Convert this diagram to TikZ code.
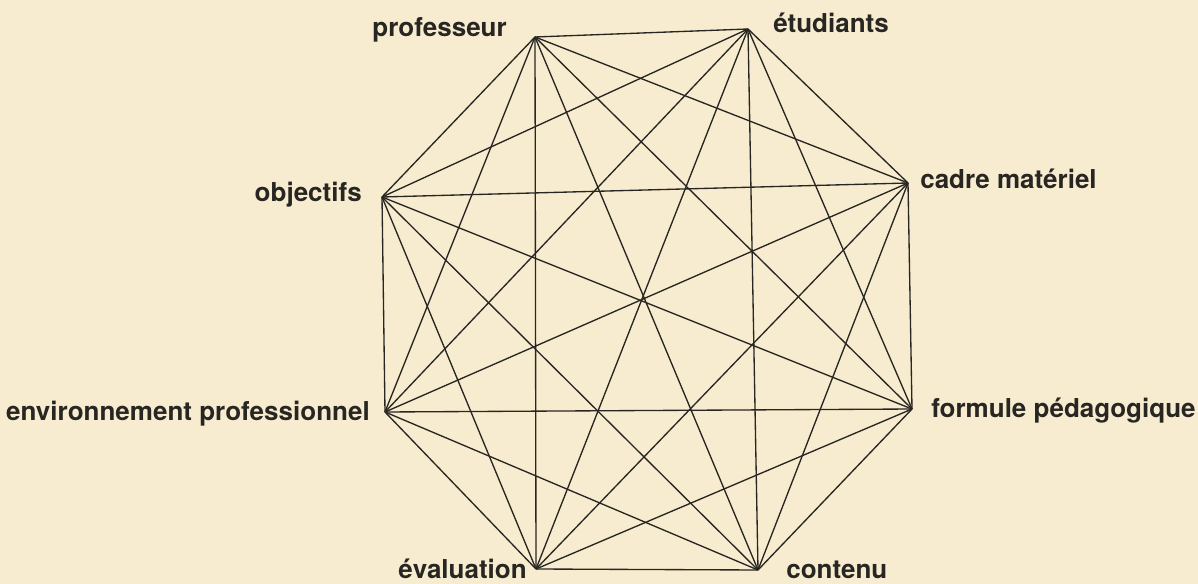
\documentclass[tikz,border=0pt]{standalone}
\usepackage{fontspec}
\setmainfont{TeX Gyre Heros}
\usepackage{tikz}
\usetikzlibrary{positioning}

\definecolor{papier}{RGB}{247,236,207}
\definecolor{encre}{RGB}{40,38,34}

\begin{document}
\begin{tikzpicture}[x=0.025cm, y=-0.025cm,
          arete/.style={draw=encre, line width=0.95pt},
          etiq/.style={font=\fontsize{18.5}{21}\selectfont\bfseries, text=encre, inner sep=0pt}
        ]
        \fill[papier] (0,0) rectangle (1198,584);
        \useasboundingbox (0,0) rectangle (1198,584);

        % sommets
        \coordinate (prof)    at (535,37);
        \coordinate (etud)    at (748,29);
        \coordinate (cadre)   at (908,183);
        \coordinate (formule) at (912,409);
        \coordinate (contenu) at (758,570);
        \coordinate (eval)    at (536,569);
        \coordinate (env)     at (385,412);
        \coordinate (obj)     at (382,197);

        % etiquettes
        \node[etiq, anchor=base east] (lprof)    at (507,37)  {professeur};
        \node[etiq, anchor=base west] (letud)    at (773,33)  {étudiants};
        \node[etiq, anchor=base west] (lcadre)   at (920,189) {cadre matériel};
        \node[etiq, anchor=base west] (lformule) at (931,417) {formule pédagogique};
        \node[etiq, anchor=base west] (lcontenu) at (786,578) {contenu};
        \node[etiq, anchor=base east] (leval)    at (527,578) {évaluation};
        \node[etiq, anchor=base east] (lenv)     at (370,420) {environnement professionnel};
        \node[etiq, anchor=base east] (lobj)     at (362,202) {objectifs};

        % toutes les liaisons
        \foreach \u [count=\i] in {prof,etud,cadre,formule,contenu,eval,env,obj}
          \foreach \v [count=\j] in {prof,etud,cadre,formule,contenu,eval,env,obj}
            {\ifnum\j>\i \draw[arete] (\u) -- (\v); \fi}
      \end{tikzpicture}
\end{document}
